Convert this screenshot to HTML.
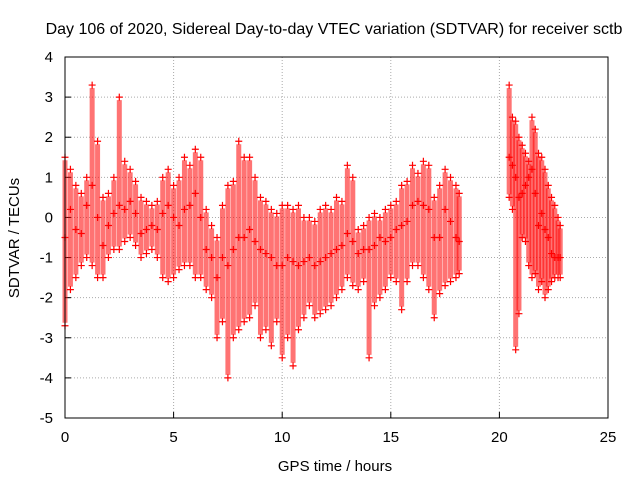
<!DOCTYPE html>
<html><head><meta charset="utf-8">
<style>
body{margin:0;background:#fff;}
svg{display:block;font-family:"Liberation Sans",sans-serif;}
</style></head><body>
<svg id="c" width="640" height="480">
<text x="334" y="34" font-size="16" text-anchor="middle">Day 106 of 2020, Sidereal Day-to-day VTEC variation (SDTVAR) for receiver sctb</text>
<text x="335" y="471" font-size="15" text-anchor="middle">GPS time / hours</text>
<text transform="translate(19,238) rotate(-90)" font-size="15" text-anchor="middle">SDTVAR / TECUs</text>
<g id="grid"></g><g id="marks"></g>
<rect x="65" y="57" width="543" height="361" fill="none" stroke="#000"/>
</svg>
<script>
const times=[0,0.25,0.5,0.75,1,1.25,1.5,1.75,2,2.25,2.5,2.75,3,3.25,3.5,3.75,4,4.25,4.5,4.75,5,5.25,5.5,5.75,6,6.25,6.5,6.75,7,7.25,7.5,7.75,8,8.25,8.5,8.75,9,9.25,9.5,9.75,10,10.25,10.5,10.75,11,11.25,11.5,11.75,12,12.25,12.5,12.75,13,13.25,13.5,13.75,14,14.25,14.5,14.75,15,15.25,15.5,15.75,16,16.25,16.5,16.75,17,17.25,17.5,17.75,18,18.15,20.45,20.6,20.75,20.9,21.05,21.2,21.35,21.5,21.65,21.8,21.95,22.1,22.25,22.4,22.55,22.7,22.8];
const hiVals=[1.5,1.2,0.8,0.6,1.0,3.3,1.9,0.5,0.6,1.0,3.0,1.4,1.2,0.9,0.5,0.4,0.3,0.4,1.0,1.2,0.8,1.0,1.5,1.3,1.7,1.5,0.2,-0.2,-0.5,0.3,0.8,0.9,1.9,1.5,1.5,1.0,0.5,0.4,0.2,0.1,0.3,0.3,0.2,0.3,0,0,-0.1,0.2,0.3,0.2,0.5,0.4,1.3,1.0,-0.3,-0.2,0,0.1,0,0.2,0.3,0.4,0.8,0.9,1.3,1.1,1.4,1.3,0.5,0.8,1.2,1.0,0.8,0.6,3.3,2.5,2.4,2.0,1.8,1.6,1.4,2.5,2.2,1.6,1.5,1.2,0.8,0.5,0.3,0,-0.2];
const midVals=[-0.5,0.2,-0.3,-0.4,0.3,0.8,0,-0.7,-0.2,0.1,0.3,0.2,0.4,0.1,-0.4,-0.3,-0.2,-0.3,0.1,0.3,0,-0.2,0.2,0.3,0.6,0,-0.8,-1,-1.5,-1,-1.2,-0.8,-0.5,-0.5,-0.3,-0.6,-0.8,-0.9,-1,-1.2,-1.2,-1,-1.1,-1.2,-1.1,-1,-1.2,-1.1,-1,-0.9,-0.8,-0.7,-0.4,-0.6,-0.9,-0.8,-0.8,-0.7,-0.5,-0.6,-0.5,-0.3,-0.2,-0.1,0.3,0.4,0.3,0.2,-0.5,-0.5,0.2,-0.1,-0.5,-0.6,1.5,1.3,1.0,0.5,0.6,0.8,1.0,1.2,0.6,-0.2,0.1,-0.3,-0.5,-0.9,-1,-1,-1];
const loVals=[-2.7,-1.8,-1.5,-1.2,-1.0,-1.2,-1.5,-1.5,-1.0,-0.8,-0.8,-0.6,-0.5,-0.7,-1.0,-0.9,-0.8,-1.0,-1.5,-1.6,-1.5,-1.3,-1.2,-1.2,-1.5,-1.5,-1.8,-2.0,-3.0,-2.6,-4.0,-3.0,-2.8,-2.6,-2.5,-2.2,-3.0,-2.8,-3.2,-2.6,-3.5,-3.0,-3.7,-2.8,-2.5,-2.2,-2.5,-2.4,-2.3,-2.2,-2.0,-1.8,-1.5,-1.7,-1.8,-1.6,-3.5,-2.2,-2.0,-1.8,-1.5,-1.6,-2.3,-1.6,-1.2,-1.2,-1.5,-1.8,-2.5,-1.9,-1.7,-1.6,-1.5,-1.4,0.5,0.2,-3.3,-2.4,-0.5,-0.6,-1.2,-1.5,-1.4,-1.8,-1.6,-2.0,-1.8,-1.6,-1.5,-1.5,-1.5];
const xTicks=[0,5,10,15,20,25];
const yTicks=[4,3,2,1,0,-1,-2,-3,-4,-5];
const X=t=>65+t*543/25, Y=v=>57+(4-v)*361/9;
const NS="http://www.w3.org/2000/svg";
const grid=document.getElementById('grid'), marks=document.getElementById('marks');
function mk(tag,a,p){const e=document.createElementNS(NS,tag);for(const k in a)e.setAttribute(k,a[k]);p.appendChild(e);return e;}
xTicks.forEach(t=>{
 if(t>0&&t<25){const g=mk('line',{x1:X(t),x2:X(t),y1:57,y2:418,stroke:'#aaa','stroke-dasharray':'1,2'},grid);
 
 }
 const tk=mk('line',{x1:X(t),x2:X(t),y1:418,y2:412,stroke:'#000'},grid);
 
 
 const l=mk('text',{x:X(t),y:442,'font-size':15,'text-anchor':'middle'},grid);l.textContent=t;
 
 
});
yTicks.forEach(v=>{
 if(v<4&&v>-5){const g=mk('line',{x1:65,x2:608,y1:Y(v),y2:Y(v),stroke:'#aaa','stroke-dasharray':'1,2'},grid);
 
 }
 const tk=mk('line',{x1:65,x2:71,y1:Y(v),y2:Y(v),stroke:'#000'},grid);
 
 
 const l=mk('text',{x:53,y:Y(v)+5,'font-size':15,'text-anchor':'end'},grid);l.textContent=v;
 
 
});
function plus(t,v){
 const p=mk('path',{d:`M${X(t)-3.5},${Y(v)}h7M${X(t)},${Y(v)-3.5}v7`,stroke:'#f00','stroke-width':1.2},marks);
 
 
}
times.forEach((t,i)=>{
 const r=mk('rect',{x:X(t)-2.5,y:Y(hiVals[i])+3,width:5,height:Math.max(0,Y(loVals[i])-Y(hiVals[i])-6),fill:'#f00',opacity:0.55},marks);
 
 
 plus(t,hiVals[i]);plus(t,midVals[i]);plus(t,loVals[i]);
});
</script>
</body></html>
